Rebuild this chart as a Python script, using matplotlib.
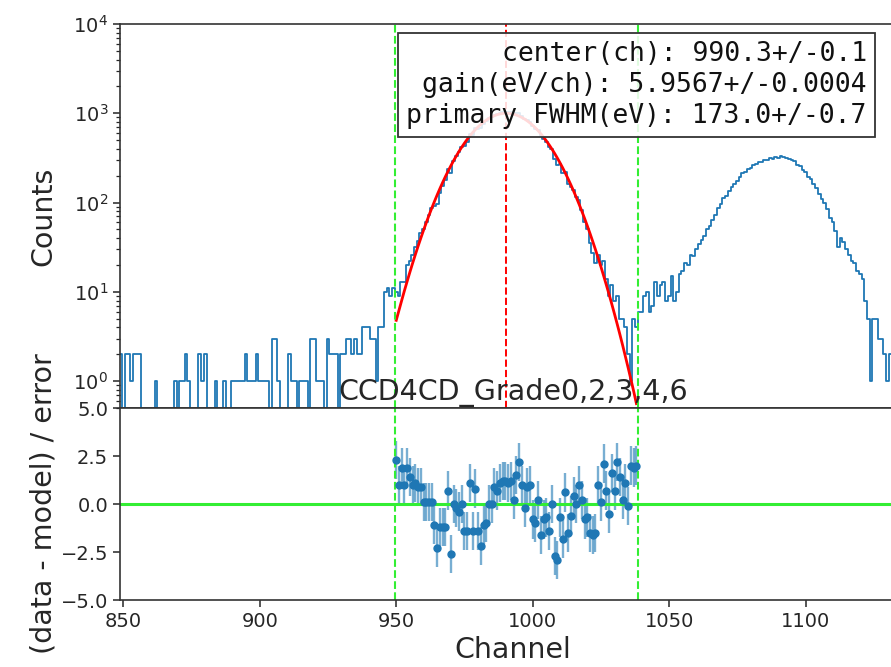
import numpy as np
import matplotlib
matplotlib.use("Agg")
import matplotlib.pyplot as plt

plt.rcParams['font.family'] = ['DejaVu Sans']
plt.rcParams['axes.unicode_minus'] = True

# histogram: counts per channel, first channel = 849
HIST_START = 849
counts = [
    # 849-899
    2, 0, 2, 2, 1, 2, 2, 2, 0, 0, 0, 0, 0, 1, 0, 0, 0, 0, 0, 0,
    1, 0, 1, 1, 2, 1, 0, 0, 0, 2, 1, 2, 0, 0, 0, 1, 0, 0, 1, 0,
    0, 1, 1, 1, 1, 1, 2, 1, 1, 1, 2,
    # 900-949
    1, 1, 1, 1, 0, 3, 3, 1, 0, 0, 0, 2, 1, 1, 0, 1, 1, 1, 0, 3,
    3, 1, 1, 1, 0, 3, 2, 2, 2, 0, 2, 2, 3, 3, 2, 3, 2, 2, 4, 4,
    4, 3, 3, 1, 4, 4, 10, 11, 9, 11,
    # 950-999
    10, 9, 13, 13, 20, 22, 26, 32, 37, 46, 50, 60, 73, 87, 92, 96, 129, 152, 178, 235,
    216, 294, 329, 366, 417, 433, 479, 585, 574, 678, 668, 692, 766, 810, 878, 912, 969, 987, 1017, 1032,
    1038, 1033, 1028, 983, 1002, 997, 929, 857, 849, 808,
    # 1000-1049
    712, 660, 643, 550, 521, 476, 415, 400, 306, 265, 267, 216, 221, 163, 150, 139, 114, 106, 82, 60,
    50, 35, 27, 21, 26, 20, 22, 14, 9, 12, 8, 9, 5, 5, 4, 2, 1, 5, 4, 6,
    6, 9, 10, 6, 7, 13, 9, 12, 13, 8,
    # 1050-1099
    9, 15, 8, 10, 16, 17, 21, 20, 26, 25, 30, 34, 38, 42, 50, 55, 64, 72, 86, 97,
    112, 118, 135, 150, 162, 176, 195, 212, 220, 238, 245, 262, 270, 285, 282, 300, 297, 312, 305, 322,
    318, 330, 325, 318, 310, 296, 290, 265, 255, 232,
    # 1100-1140
    220, 195, 182, 160, 145, 125, 110, 100, 85, 68, 60, 48, 32, 40, 36, 30, 26, 22, 21, 17,
    16, 14, 8, 5, 1, 5, 5, 3, 3, 2, 1, 2, 1, 1, 2, 1, 0, 1, 0, 1, 0,
]

# fit range, model curve and residuals (channels 950-1038)
FIT_START = 950
fit_lo, fit_hi, fit_center = 949.5, 1038.5, 990.3
model = [
    4.8, 6.2, 8.0, 10.3, 13.1, 16.6, 20.9, 26.1, 32.4, 39.9,
    48.9, 59.4, 71.8, 86.2, 102.8, 121.8, 143.4, 167.8, 194.9, 224.9,
    257.9, 293.8, 332.5, 373.7, 417.3, 463.0, 510.5, 558.9, 608.1, 657.1,
    705.4, 752.5, 797.2, 839.2, 877.7, 911.7, 941.0, 964.8, 982.7, 994.5,
    999.7, 998.4, 990.5, 976.3, 956.0, 930.0, 898.7, 862.8, 822.8, 779.7,
    733.9, 686.2, 637.5, 588.3, 539.5, 491.4, 444.6, 399.7, 356.9, 316.7,
    279.1, 244.4, 212.6, 183.7, 157.7, 134.5, 113.9, 95.9, 80.2, 66.6,
    55.0, 45.1, 36.7, 29.7, 23.9, 19.1, 15.1, 11.9, 9.34, 7.26,
    5.61, 4.31, 3.29, 2.49, 1.87, 1.40, 1.04, 0.77, 0.56,
]
resid = [
    2.3, 1.0, 1.9, 1.0, 1.9, 1.4, 1.0, 1.1, 0.9, 0.9,
    0.1, 0.1, 0.1, 0.1, -1.1, -2.3, -1.2, -1.2, -1.2, 0.7,
    -2.6, 0.0, -0.2, -0.4, 0.0, -1.4, -1.4, 1.1, -1.4, 0.8,
    -1.4, -2.2, -1.1, -1.0, 0.0, 0.0, 0.9, 0.7, 1.1, 1.2,
    1.2, 1.1, 1.2, 0.2, 1.5, 2.2, 1.0, -0.2, 0.9, 1.0,
    -0.8, -1.0, 0.2, -1.6, -0.8, -0.7, -1.4, 0.0, -2.7, -2.9,
    -0.7, -1.8, 0.6, -1.5, -0.6, 0.4, 0.0, 1.0, 0.2, -0.8,
    -0.7, -1.5, -1.6, -1.5, 1.0, 0.1, 2.1, 0.7, -0.5, 1.6,
    0.7, 2.2, 1.4, 0.2, 1.1, -0.1, 2.0, 1.9, 2.0,
]
RES_ERR = 1.0

info = ("center(ch): 990.3+/-0.1\n"
        "gain(eV/ch): 5.9567+/-0.0004\n"
        "primary FWHM(eV): 173.0+/-0.7")
title = "CCD4CD_Grade0,2,3,4,6"

blue = '#1f77b4'
green = '#33ee33'
txt = '#262626'

chan = np.arange(HIST_START, HIST_START + len(counts))
fchan = np.arange(FIT_START, FIT_START + len(model))

fig = plt.figure(figsize=(8.91, 6.67), dpi=100)
ax1 = fig.add_axes([0.1347, 0.3883, 0.8822, 0.5757])
ax2 = fig.add_axes([0.1347, 0.1004, 0.8822, 0.2879], sharex=ax1)

# top panel: spectrum
ax1.set_yscale('log', nonpositive='clip')
ax1.step(chan, counts, where='mid', color=blue, lw=1.3)
ax1.plot(fchan, model, color='red', lw=2.0)
ax1.axvline(fit_lo, color=green, ls='--', lw=1.5)
ax1.axvline(fit_hi, color=green, ls='--', lw=1.5)
ax1.axvline(fit_center, color='red', ls='--', lw=1.4)
ax1.set_ylim(0.5, 1e4)
ax1.set_ylabel('Counts', fontsize=20.5, color=txt)
ax1.yaxis.set_label_coords(-0.08, 0.5)
ax1.tick_params(axis='x', bottom=False, labelbottom=False)
ax1.text(0.95, 0.955, info, transform=ax1.transAxes, ha='right', va='top',
         family='DejaVu Sans Mono', fontsize=19, color='#111111',
         linespacing=1.25,
         bbox=dict(boxstyle='square,pad=0.3', facecolor=(1, 1, 1, 0.85),
                   edgecolor='#333333', lw=1.3))

# bottom panel: residuals
ax2.errorbar(fchan, resid, yerr=RES_ERR, fmt='o', ms=5, color=blue,
             ecolor=(0.12, 0.47, 0.71, 0.6), elinewidth=1.7)
ax2.axhline(0, color=green, lw=2.2)
ax2.axvline(fit_lo, color=green, ls='--', lw=1.5)
ax2.axvline(fit_hi, color=green, ls='--', lw=1.5)
ax2.set_ylim(-5, 5)
ax2.set_yticks([-5, -2.5, 0, 2.5, 5])
ax2.set_xlim(848.8, 1136.8)
ax2.set_xticks([850, 900, 950, 1000, 1050, 1100])
ax2.set_xlabel('Channel', fontsize=20.5, color=txt)
ax2.set_ylabel('(data - model) / error', fontsize=20.5, color=txt)
ax2.yaxis.set_label_coords(-0.08, 0.5)
ax2.set_title(title, fontsize=20.5, color=txt)

for ax in (ax1, ax2):
    ax.tick_params(labelsize=14, colors=txt, length=5, width=1.1)
    ax.tick_params(which='minor', length=3, width=0.9, colors=txt)
    for s in ax.spines.values():
        s.set_linewidth(1.2)
        s.set_color('#333333')

fig.savefig('out.png', dpi=100)
